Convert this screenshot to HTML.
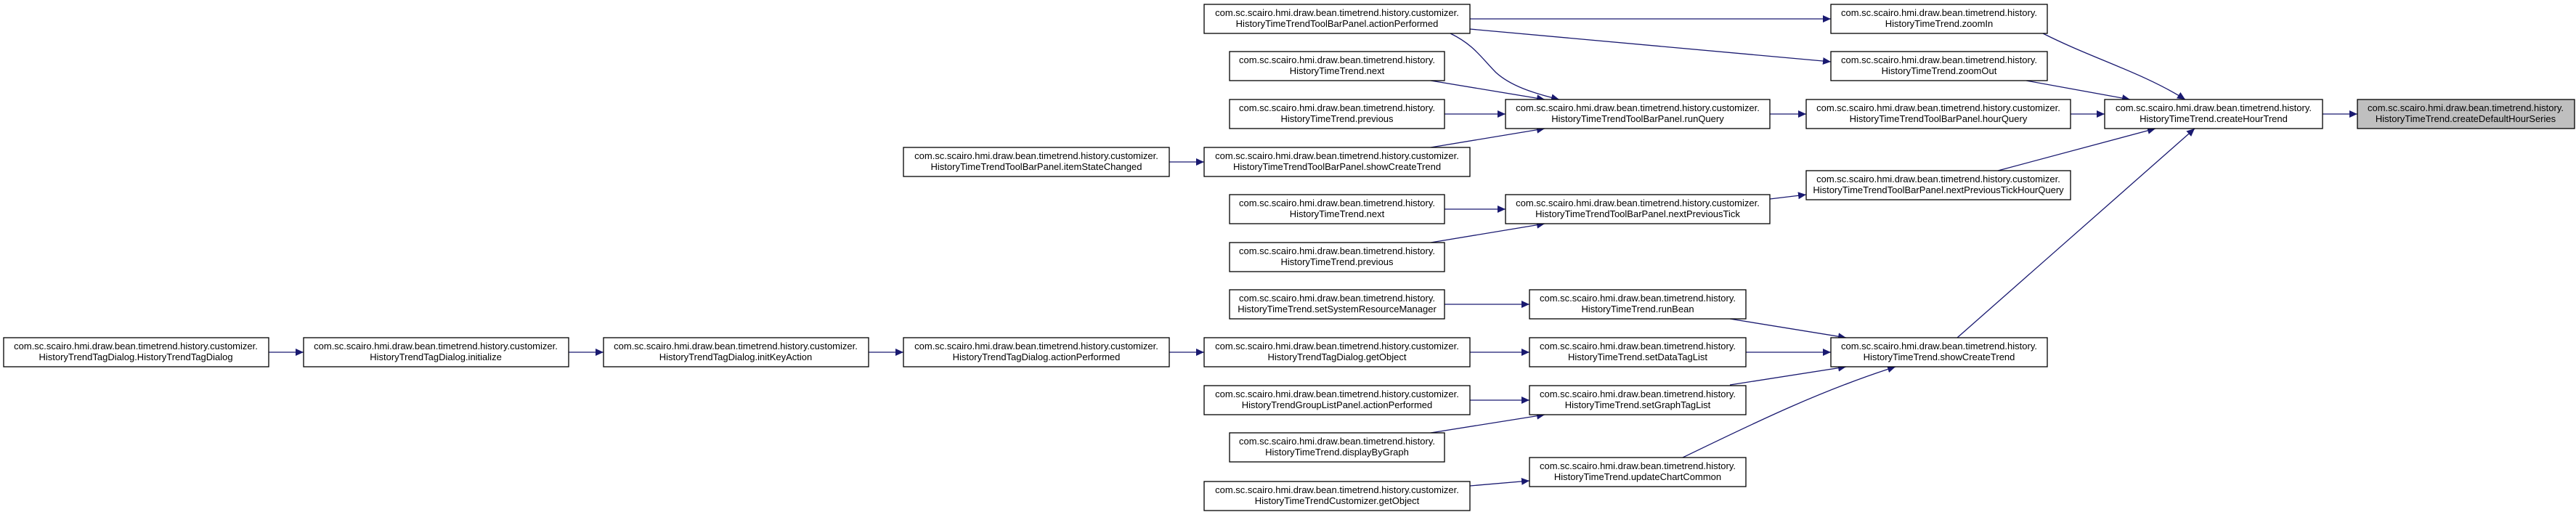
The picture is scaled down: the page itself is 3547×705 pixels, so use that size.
<!DOCTYPE html>
<html><head><meta charset="utf-8">
<style>
html,body{margin:0;padding:0;background:#fff;}
svg{display:block;}
text{font-family:"Liberation Sans",Arial,sans-serif;font-size:13px;fill:#000;}
</style></head>
<body>
<svg width="3547" height="705" viewBox="0 0 3547 705" xmlns="http://www.w3.org/2000/svg">
<defs>
<marker id="a" markerUnits="userSpaceOnUse" markerWidth="12" markerHeight="10" refX="11" refY="5" orient="auto">
<path d="M0,0 L11,5 L0,10 Z" fill="#191970"/>
</marker>
</defs>
<g fill="none" stroke="#191970" stroke-width="1.3" marker-end="url(#a)">
<!-- left chain -->
<line x1="370" y1="485" x2="418" y2="485"/>
<line x1="783" y1="485" x2="831" y2="485"/>
<line x1="1196" y1="485" x2="1244" y2="485"/>
<line x1="1610" y1="485" x2="1658" y2="485"/>
<line x1="1610" y1="223" x2="1658" y2="223"/>
<!-- to runQuery -->
<path d="M1997,46 C2030,62 2040,80 2060,100 C2080,118 2110,128 2147,137"/>
<line x1="1970" y1="111" x2="2127" y2="137"/>
<line x1="1989" y1="157" x2="2073" y2="157"/>
<line x1="1970" y1="203" x2="2127" y2="177"/>
<!-- actionPerformed to zoom -->
<line x1="2024" y1="26" x2="2521" y2="26"/>
<line x1="2024" y1="40" x2="2521" y2="85"/>
<!-- runQuery -> hourQuery -> createHourTrend -> default -->
<line x1="2437" y1="157" x2="2487" y2="157"/>
<line x1="2851" y1="157" x2="2898" y2="157"/>
<line x1="3198" y1="157" x2="3246" y2="157"/>
<!-- into createHourTrend -->
<path d="M2813,46 C2880,80 2950,100 3009,137"/>
<line x1="2790" y1="111" x2="2933" y2="137"/>
<line x1="2751" y1="235" x2="2968" y2="177"/>
<line x1="2695" y1="465" x2="3022" y2="177"/>
<!-- nextPreviousTick -->
<line x1="2437" y1="274" x2="2487" y2="268"/>
<line x1="1989" y1="288" x2="2073" y2="288"/>
<line x1="1970" y1="334" x2="2127" y2="308"/>
<!-- lower -->
<line x1="1989" y1="419" x2="2106" y2="419"/>
<line x1="2382" y1="439" x2="2542" y2="465"/>
<line x1="2404" y1="485" x2="2521" y2="485"/>
<line x1="2382" y1="530" x2="2542" y2="505"/>
<path d="M2317,630 C2400,590 2500,540 2610,505"/>
<line x1="2024" y1="485" x2="2106" y2="485"/>
<line x1="2024" y1="551" x2="2106" y2="551"/>
<line x1="1970" y1="596" x2="2127" y2="571"/>
<line x1="2024" y1="669" x2="2106" y2="662"/>
</g>
<g stroke="#000" stroke-width="1.3" fill="#fff">
<rect x="5" y="465" width="365" height="40"/>
<rect x="418" y="465" width="365" height="40"/>
<rect x="831" y="465" width="365" height="40"/>
<rect x="1244" y="465" width="366" height="40"/>
<rect x="1244" y="203" width="366" height="40"/>
<rect x="1658" y="6" width="366" height="40"/>
<rect x="1693" y="71" width="296" height="40"/>
<rect x="1693" y="137" width="296" height="40"/>
<rect x="1658" y="203" width="366" height="40"/>
<rect x="1693" y="268" width="296" height="40"/>
<rect x="1693" y="334" width="296" height="40"/>
<rect x="1693" y="399" width="296" height="40"/>
<rect x="1658" y="465" width="366" height="40"/>
<rect x="1658" y="531" width="366" height="40"/>
<rect x="1693" y="596" width="296" height="40"/>
<rect x="1658" y="663" width="366" height="40"/>
<rect x="2073" y="137" width="364" height="40"/>
<rect x="2073" y="268" width="364" height="40"/>
<rect x="2106" y="399" width="298" height="40"/>
<rect x="2106" y="465" width="298" height="40"/>
<rect x="2106" y="531" width="298" height="40"/>
<rect x="2106" y="630" width="298" height="40"/>
<rect x="2521" y="6" width="298" height="40"/>
<rect x="2521" y="71" width="298" height="40"/>
<rect x="2487" y="137" width="364" height="40"/>
<rect x="2487" y="235" width="364" height="40"/>
<rect x="2521" y="465" width="298" height="40"/>
<rect x="2898" y="137" width="300" height="40"/>
<rect x="3246" y="137" width="299" height="40" fill="#bfbfbf"/>
</g>
<g text-anchor="middle">
<text x="187" y="481">com.sc.scairo.hmi.draw.bean.timetrend.history.customizer.</text><text x="187" y="496">HistoryTrendTagDialog.HistoryTrendTagDialog</text>
<text x="600" y="481">com.sc.scairo.hmi.draw.bean.timetrend.history.customizer.</text><text x="600" y="496">HistoryTrendTagDialog.initialize</text>
<text x="1013" y="481">com.sc.scairo.hmi.draw.bean.timetrend.history.customizer.</text><text x="1013" y="496">HistoryTrendTagDialog.initKeyAction</text>
<text x="1427" y="481">com.sc.scairo.hmi.draw.bean.timetrend.history.customizer.</text><text x="1427" y="496">HistoryTrendTagDialog.actionPerformed</text>
<text x="1427" y="219">com.sc.scairo.hmi.draw.bean.timetrend.history.customizer.</text><text x="1427" y="234">HistoryTimeTrendToolBarPanel.itemStateChanged</text>
<text x="1841" y="22">com.sc.scairo.hmi.draw.bean.timetrend.history.customizer.</text><text x="1841" y="37">HistoryTimeTrendToolBarPanel.actionPerformed</text>
<text x="1841" y="87">com.sc.scairo.hmi.draw.bean.timetrend.history.</text><text x="1841" y="102">HistoryTimeTrend.next</text>
<text x="1841" y="153">com.sc.scairo.hmi.draw.bean.timetrend.history.</text><text x="1841" y="168">HistoryTimeTrend.previous</text>
<text x="1841" y="219">com.sc.scairo.hmi.draw.bean.timetrend.history.customizer.</text><text x="1841" y="234">HistoryTimeTrendToolBarPanel.showCreateTrend</text>
<text x="1841" y="284">com.sc.scairo.hmi.draw.bean.timetrend.history.</text><text x="1841" y="299">HistoryTimeTrend.next</text>
<text x="1841" y="350">com.sc.scairo.hmi.draw.bean.timetrend.history.</text><text x="1841" y="365">HistoryTimeTrend.previous</text>
<text x="1841" y="415">com.sc.scairo.hmi.draw.bean.timetrend.history.</text><text x="1841" y="430">HistoryTimeTrend.setSystemResourceManager</text>
<text x="1841" y="481">com.sc.scairo.hmi.draw.bean.timetrend.history.customizer.</text><text x="1841" y="496">HistoryTrendTagDialog.getObject</text>
<text x="1841" y="547">com.sc.scairo.hmi.draw.bean.timetrend.history.customizer.</text><text x="1841" y="562">HistoryTrendGroupListPanel.actionPerformed</text>
<text x="1841" y="612">com.sc.scairo.hmi.draw.bean.timetrend.history.</text><text x="1841" y="627">HistoryTimeTrend.displayByGraph</text>
<text x="1841" y="679">com.sc.scairo.hmi.draw.bean.timetrend.history.customizer.</text><text x="1841" y="694">HistoryTimeTrendCustomizer.getObject</text>
<text x="2255" y="153">com.sc.scairo.hmi.draw.bean.timetrend.history.customizer.</text><text x="2255" y="168">HistoryTimeTrendToolBarPanel.runQuery</text>
<text x="2255" y="284">com.sc.scairo.hmi.draw.bean.timetrend.history.customizer.</text><text x="2255" y="299">HistoryTimeTrendToolBarPanel.nextPreviousTick</text>
<text x="2255" y="415">com.sc.scairo.hmi.draw.bean.timetrend.history.</text><text x="2255" y="430">HistoryTimeTrend.runBean</text>
<text x="2255" y="481">com.sc.scairo.hmi.draw.bean.timetrend.history.</text><text x="2255" y="496">HistoryTimeTrend.setDataTagList</text>
<text x="2255" y="547">com.sc.scairo.hmi.draw.bean.timetrend.history.</text><text x="2255" y="562">HistoryTimeTrend.setGraphTagList</text>
<text x="2255" y="646">com.sc.scairo.hmi.draw.bean.timetrend.history.</text><text x="2255" y="661">HistoryTimeTrend.updateChartCommon</text>
<text x="2670" y="22">com.sc.scairo.hmi.draw.bean.timetrend.history.</text><text x="2670" y="37">HistoryTimeTrend.zoomIn</text>
<text x="2670" y="87">com.sc.scairo.hmi.draw.bean.timetrend.history.</text><text x="2670" y="102">HistoryTimeTrend.zoomOut</text>
<text x="2669" y="153">com.sc.scairo.hmi.draw.bean.timetrend.history.customizer.</text><text x="2669" y="168">HistoryTimeTrendToolBarPanel.hourQuery</text>
<text x="2669" y="251">com.sc.scairo.hmi.draw.bean.timetrend.history.customizer.</text><text x="2669" y="266">HistoryTimeTrendToolBarPanel.nextPreviousTickHourQuery</text>
<text x="2670" y="481">com.sc.scairo.hmi.draw.bean.timetrend.history.</text><text x="2670" y="496">HistoryTimeTrend.showCreateTrend</text>
<text x="3048" y="153">com.sc.scairo.hmi.draw.bean.timetrend.history.</text><text x="3048" y="168">HistoryTimeTrend.createHourTrend</text>
<text x="3395" y="153">com.sc.scairo.hmi.draw.bean.timetrend.history.</text><text x="3395" y="168">HistoryTimeTrend.createDefaultHourSeries</text>
</g>
</svg>
</body></html>
